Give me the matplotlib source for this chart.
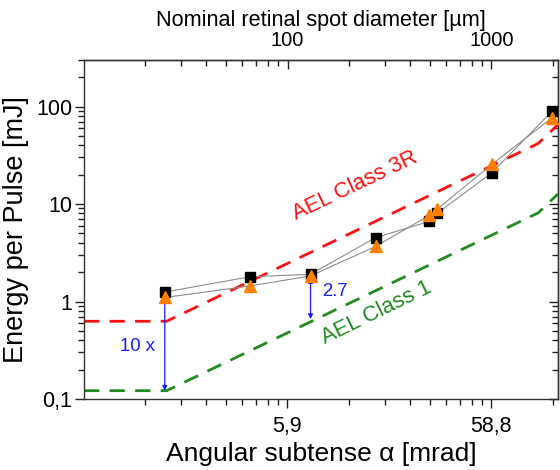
import numpy as np
import matplotlib
matplotlib.use("Agg")
import matplotlib.pyplot as plt
from matplotlib.ticker import FixedLocator, NullFormatter, LogLocator

plt.rcParams['font.family'] = ['Liberation Sans', 'DejaVu Sans']

# ---- data ----
alpha_mrad = [1.47, 3.83, 7.63, 15.9, 29.2, 31.9, 59.3, 117.0]
energy_sq = [1.25, 1.79, 1.90, 4.52, 6.64, 8.02, 21.0, 89.7]
energy_tri = [1.10, 1.44, 1.83, 3.67, 7.65, 8.83, 25.6, 76.9]

ael_alpha = [0.59, 1.5, 100.0, 125.0]
ael_3r = [0.627, 0.627, 41.8, 65.3]
ael_1 = [0.1217, 0.1217, 8.11, 12.7]

x_tick_vals = [5.88, 58.8]
x_tick_labels = ['5,9', '58,8']
y_tick_vals = [0.1, 1, 10, 100]
y_tick_labels = ['0,1', '1', '10', '100']
top_tick_vals = [100, 1000]
top_tick_labels = ['100', '1000']
focal_factor = 17.0  # µm per mrad

arrow1 = (1.47, 1.13, 0.1217)
arrow2 = (7.63, 1.74, 0.66)

RED = '#ff1010'
GREEN = '#1e8c1e'
BLUE = '#1a1aff'
ORANGE = '#ff8000'
GRAY = '#8c8c8c'
TICKC = '#222222'

fig = plt.figure(figsize=(5.6, 4.7), dpi=100)
ax = fig.add_axes([84/560, 1-399/470, (558-84)/560, (399-60)/470])
ax.set_xscale('log')
ax.set_yscale('log')
ax.set_xlim(0.59, 125)
ax.set_ylim(0.1, 300)

ax.plot(ael_alpha, ael_3r, color=RED, lw=2.0, ls=(0, (5.5, 3.7)), zorder=2)
ax.plot(ael_alpha, ael_1, color=GREEN, lw=2.0, ls=(0, (5.5, 3.7)), zorder=2)

ax.plot(alpha_mrad, energy_sq, color=GRAY, lw=0.8, zorder=3)
ax.plot(alpha_mrad, energy_tri, color=GRAY, lw=0.8, zorder=3)
ax.plot(alpha_mrad, energy_sq, ls='none', marker='s', ms=7.3, color='black', zorder=5)
ax.plot(alpha_mrad, energy_tri, ls='none', marker='^', ms=8.5, color=ORANGE, zorder=6)

for (xa, yt, yb) in (arrow1, arrow2):
    ax.annotate('', xy=(xa, yt), xytext=(xa, yb),
                arrowprops=dict(arrowstyle='<|-|>', color=BLUE, lw=0.9,
                                mutation_scale=7, shrinkA=0, shrinkB=0), zorder=4)

ax.text(1.08, 0.345, '10 x', color=BLUE, fontsize=13.3, ha='center', va='center')
ax.text(10.0, 1.27, '2.7', color=BLUE, fontsize=13.3, ha='center', va='center')
ax.text(12.6, 15.2, 'AEL Class 3R', color=RED, fontsize=15.8, ha='center', va='center',
        rotation=25.5, rotation_mode='anchor')
ax.text(16.0, 0.76, 'AEL Class 1', color=GREEN, fontsize=15.8, ha='center', va='center',
        rotation=26, rotation_mode='anchor')

# bottom axis ticks
ax.xaxis.set_major_locator(FixedLocator(x_tick_vals))
ax.set_xticklabels(x_tick_labels)
minors = [d * k for d in (0.588, 5.88, 58.8) for k in range(2, 10)]
ax.xaxis.set_minor_locator(FixedLocator(minors))
ax.xaxis.set_minor_formatter(NullFormatter())

ax.yaxis.set_major_locator(FixedLocator(y_tick_vals))
ax.set_yticklabels(y_tick_labels)
ax.yaxis.set_minor_locator(LogLocator(base=10, subs=np.arange(2, 10), numticks=20))
ax.yaxis.set_minor_formatter(NullFormatter())

ax.tick_params(axis='both', which='major', direction='out', length=6.5, width=1.0,
               labelsize=15.5, color=TICKC)
ax.tick_params(axis='x', which='major', pad=6)
ax.tick_params(axis='y', which='major', pad=2)
ax.tick_params(axis='both', which='minor', direction='out', length=4, width=1.0, color=TICKC)
ax.tick_params(axis='y', which='both', right=False, left=True)
ax.tick_params(axis='x', which='both', top=False, bottom=True)

ax.set_xlabel('Angular subtense α [mrad]', fontsize=19, labelpad=3)
ax.set_ylabel('Energy per Pulse [mJ]', fontsize=19.5, labelpad=5)

# right axis with inward ticks (mirror)
rax = ax.secondary_yaxis('right')
rax.yaxis.set_major_locator(FixedLocator(y_tick_vals))
rax.yaxis.set_minor_locator(LogLocator(base=10, subs=np.arange(2, 10), numticks=20))
rax.yaxis.set_major_formatter(NullFormatter())
rax.yaxis.set_minor_formatter(NullFormatter())
rax.tick_params(which='major', direction='in', length=6.5, width=1.0, color=TICKC)
rax.tick_params(which='minor', direction='in', length=4, width=1.0, color=TICKC)

# top axis
tax = ax.secondary_xaxis('top', functions=(lambda a: a * focal_factor,
                                           lambda d: d / focal_factor))
tax.xaxis.set_major_locator(FixedLocator(top_tick_vals))
tax.set_xticklabels(top_tick_labels)
tax.xaxis.set_minor_locator(LogLocator(base=10, subs=np.arange(2, 10), numticks=20))
tax.xaxis.set_minor_formatter(NullFormatter())
tax.tick_params(which='major', direction='in', length=6.5, width=1.0, labelsize=14.5,
                pad=7, color=TICKC)
tax.tick_params(which='minor', direction='in', length=4, width=1.0, color=TICKC)
tax.set_xlabel('Nominal retinal spot diameter [µm]', fontsize=15.6, labelpad=4)

for a in (ax, rax, tax):
    for sp in a.spines.values():
        sp.set_linewidth(1.0)
        sp.set_color('#333333')

fig.savefig('out.png', dpi=100)
